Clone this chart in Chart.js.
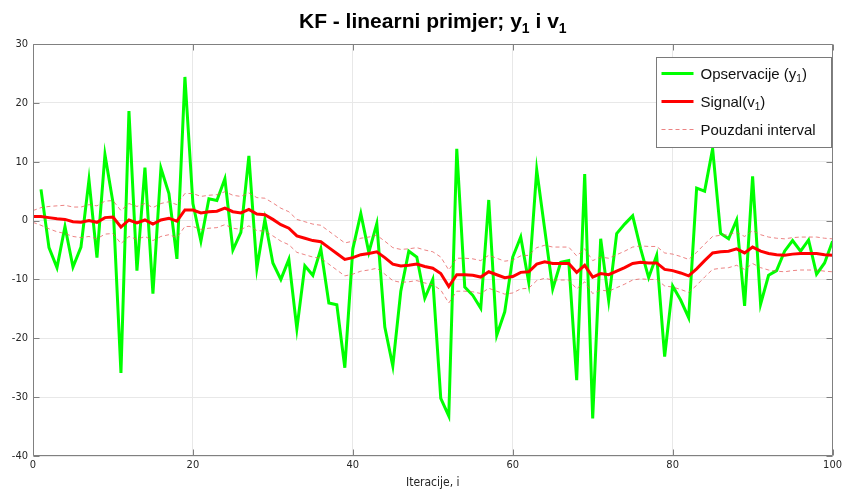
<!DOCTYPE html>
<html>
<head>
<meta charset="utf-8">
<script src="https://cdn.jsdelivr.net/npm/chart.js@4.4.0/dist/chart.umd.min.js"></script>
<style>
html, body { margin: 0; padding: 0; background: #fff; }
canvas { display: block; }
</style>
</head>
<body>
<canvas id="kfChart" width="845" height="490"></canvas>
<script>
// Axis ticks
const xTicks = [0, 20, 40, 60, 80, 100];
const yTicks = [-40, -30, -20, -10, 0, 10, 20, 30];

// Observations y1, iterations 1..100
const observations = [
    5.3, -4.6, -8.0, -1.0, -7.9, -4.5, 6.9, -6.3, 11.2, 3.1,
    -25.9, 18.6, -8.5, 9.0, -12.4, 8.9, 4.6, -6.5, 24.4, 2.9,
    -3.5, 3.7, 3.4, 7.1, -5.0, -2.0, 11.0, -8.1, 0.2, -7.2,
    -10.0, -6.6, -18.4, -7.7, -9.3, -4.8, -14.0, -14.3, -25.0, -4.8,
    1.2, -5.4, -0.5, -18.1, -24.7, -12.0, -5.2, -6.2, -13.2, -10.0,
    -30.2, -33.2, 12.2, -11.3, -12.7, -14.9, 3.5, -19.5, -15.5, -6.2,
    -2.8, -10.5, 8.6, -1.5, -11.6, -7.1, -6.8, -27.1, 7.9, -33.6,
    -3.1, -13.6, -2.2, -0.6, 0.8, -4.8, -9.7, -5.9, -23.1, -11.1,
    -13.5, -16.5, 5.5, 5.0, 12.2, -2.2, -3.1, 0.1, -14.5, 7.5,
    -14.2, -9.3, -8.5, -5.2, -3.4, -5.2, -3.3, -9.1, -7.2, -3.5
];

// Estimated signal v1, iterations 0..100
const signal = [
    0.7, 0.7, 0.5, 0.3, 0.2, -0.2, -0.3, 0.0, -0.3, 0.5, 0.6,
    -1.1, 0.1, -0.4, 0.1, -0.6, 0.1, 0.4, -0.1, 1.8, 1.8,
    1.3, 1.5, 1.6, 2.1, 1.5, 1.3, 1.9, 1.1, 1.0, 0.2,
    -0.7, -1.3, -2.6, -3.0, -3.4, -3.6, -4.6, -5.6, -6.6, -6.3,
    -5.8, -5.6, -5.3, -6.3, -7.4, -7.7, -7.6, -7.4, -7.8, -8.1,
    -9.0, -11.2, -9.2, -9.2, -9.3, -9.6, -8.7, -9.2, -9.7, -9.5,
    -8.8, -8.7, -7.4, -7.0, -7.3, -7.3, -7.3, -8.8, -7.6, -9.6,
    -9.0, -9.2, -8.6, -8.0, -7.3, -7.1, -7.2, -7.2, -8.3, -8.5,
    -8.9, -9.4, -8.2, -6.8, -5.5, -5.3, -5.2, -4.8, -5.5, -4.5,
    -5.2, -5.6, -5.8, -5.9, -5.7, -5.6, -5.6, -5.6, -5.8, -5.9
];

// Confidence interval, iterations 0..100
const upperBound = [
    1.7, 2.2, 2.4, 2.5, 2.6, 2.3, 2.3, 2.7, 2.5, 3.3, 3.4,
    1.7, 2.9, 2.4, 2.9, 2.2, 2.9, 3.2, 2.7, 4.6, 4.6,
    4.1, 4.3, 4.4, 4.9, 4.3, 4.1, 4.7, 3.9, 3.8, 3.0,
    2.1, 1.5, 0.2, -0.2, -0.6, -0.8, -1.8, -2.8, -3.8, -3.5,
    -3.0, -2.8, -2.5, -3.5, -4.6, -4.9, -4.8, -4.6, -5.0, -5.3,
    -6.2, -8.4, -6.4, -6.4, -6.5, -6.8, -5.9, -6.4, -6.9, -6.7,
    -6.0, -5.9, -4.6, -4.2, -4.5, -4.5, -4.5, -6.0, -4.8, -6.8,
    -6.2, -6.4, -5.8, -5.2, -4.5, -4.3, -4.4, -4.4, -5.5, -5.7,
    -6.1, -6.6, -5.4, -4.0, -2.7, -2.5, -2.4, -2.0, -2.7, -1.7,
    -2.4, -2.8, -3.0, -3.1, -2.9, -2.8, -2.8, -2.8, -3.0, -3.1
];
const lowerBound = [
    -0.3, -0.8, -1.4, -1.9, -2.2, -2.7, -2.9, -2.7, -3.1, -2.3, -2.2,
    -3.9, -2.7, -3.2, -2.7, -3.4, -2.7, -2.4, -2.9, -1.0, -1.0,
    -1.5, -1.3, -1.2, -0.7, -1.3, -1.5, -0.9, -1.7, -1.8, -2.6,
    -3.5, -4.1, -5.4, -5.8, -6.2, -6.4, -7.4, -8.4, -9.4, -9.1,
    -8.6, -8.4, -8.1, -9.1, -10.2, -10.5, -10.4, -10.2, -10.6, -10.9,
    -11.8, -14.0, -12.0, -12.0, -12.1, -12.4, -11.5, -12.0, -12.5, -12.3,
    -11.6, -11.5, -10.2, -9.8, -10.1, -10.1, -10.1, -11.6, -10.4, -12.4,
    -11.8, -12.0, -11.4, -10.8, -10.1, -9.9, -10.0, -10.0, -11.1, -11.3,
    -11.7, -12.2, -11.0, -9.6, -8.3, -8.1, -8.0, -7.6, -8.3, -7.3,
    -8.0, -8.4, -8.6, -8.7, -8.5, -8.4, -8.4, -8.4, -8.6, -8.7
];

const GREEN = '#00ff00';
const RED = '#ff0000';
const BAND = 'rgba(230, 90, 90, 0.75)';
const AXIS_GRAY = '#808080';
const TEXT = '#262626';
const TICK_FONT = '"Liberation Sans Narrow", "DejaVu Sans Condensed", "Liberation Sans", sans-serif';
const MAIN_FONT = '"Liberation Sans", Arial, sans-serif';

// Draw text with "_1" style subscripts: parts = [[text, isSub], ...]
function drawRich(ctx, parts, x, y, size, weight, align) {
    const fontFor = sub => `${weight} ${sub ? Math.round(size * 0.68) : size}px ${MAIN_FONT}`;
    let total = 0;
    parts.forEach(([t, sub]) => {
        ctx.font = fontFor(sub);
        total += ctx.measureText(t).width;
    });
    let cx = align === 'center' ? x - total / 2 : x;
    ctx.textAlign = 'left';
    ctx.textBaseline = 'alphabetic';
    parts.forEach(([t, sub]) => {
        ctx.font = fontFor(sub);
        ctx.fillText(t, cx, sub ? y + size * 0.22 : y);
        cx += ctx.measureText(t).width;
    });
}

// Title, inward tick marks, axes box and legend
const decorPlugin = {
    id: 'decor',
    afterDraw(chart) {
        const ctx = chart.ctx;
        const area = chart.chartArea;
        const xs = chart.scales.x;
        const ys = chart.scales.y;
        ctx.save();

        // axes box + inward ticks
        ctx.strokeStyle = AXIS_GRAY;
        ctx.lineWidth = 1;
        ctx.beginPath();
        const L = Math.round(area.left) + 0.5, R = Math.round(area.right) - 0.5;
        const T = Math.round(area.top) + 0.5, B = Math.round(area.bottom) - 0.5;
        ctx.rect(L, T, R - L, B - T);
        xTicks.forEach(v => {
            const px = Math.round(xs.getPixelForValue(v)) + 0.5;
            ctx.moveTo(px, B); ctx.lineTo(px, B - 6);
            ctx.moveTo(px, T); ctx.lineTo(px, T + 6);
        });
        yTicks.forEach(v => {
            const py = Math.round(ys.getPixelForValue(v)) + 0.5;
            ctx.moveTo(L, py); ctx.lineTo(L + 6, py);
            ctx.moveTo(R, py); ctx.lineTo(R - 6, py);
        });
        ctx.stroke();

        // title
        ctx.fillStyle = '#000';
        drawRich(ctx, [['KF - linearni primjer; y', false], ['1', true], [' i v', false], ['1', true]],
            (area.left + area.right) / 2, 28, 21, 'bold', 'center');

        // legend
        const bx = 656.5, by = 57.5, bw = 175, bh = 90;
        ctx.fillStyle = '#fff';
        ctx.fillRect(bx, by, bw, bh);
        ctx.strokeStyle = '#7a7a7a';
        ctx.lineWidth = 1;
        ctx.strokeRect(bx, by, bw, bh);

        const rows = [
            { parts: [['Opservacije (y', false], ['1', true], [')', false]], color: GREEN, width: 3, dash: [] },
            { parts: [['Signal(v', false], ['1', true], [')', false]], color: RED, width: 3, dash: [] },
            { parts: [['Pouzdani interval', false]], color: BAND, width: 1, dash: [4, 3] }
        ];
        rows.forEach((row, i) => {
            const cy = by + 16 + i * 28;
            ctx.beginPath();
            ctx.strokeStyle = row.color;
            ctx.lineWidth = row.width;
            ctx.setLineDash(row.dash);
            ctx.moveTo(bx + 5, cy);
            ctx.lineTo(bx + 37, cy);
            ctx.stroke();
            ctx.setLineDash([]);
            ctx.fillStyle = '#111';
            drawRich(ctx, row.parts, bx + 44, cy + 5.5, 15, 'normal', 'left');
        });

        ctx.restore();
    }
};

const ctx = document.getElementById('kfChart').getContext('2d');

const kfChart = new Chart(ctx, {
    type: 'line',
    data: {
        datasets: [
            {
                label: 'Signal(v1)',
                data: signal.map((v, i) => ({ x: i, y: v })),
                borderColor: RED,
                borderWidth: 3,
                order: 0
            },
            {
                label: 'Pouzdani interval',
                data: upperBound.map((v, i) => ({ x: i, y: v })),
                borderColor: BAND,
                borderWidth: 1,
                borderDash: [4, 3],
                order: 1
            },
            {
                label: 'Pouzdani interval (donji)',
                data: lowerBound.map((v, i) => ({ x: i, y: v })),
                borderColor: BAND,
                borderWidth: 1,
                borderDash: [4, 3],
                order: 1
            },
            {
                label: 'Opservacije (y1)',
                data: observations.map((v, i) => ({ x: i + 1, y: v })),
                borderColor: GREEN,
                borderWidth: 3,
                order: 2
            }
        ]
    },
    options: {
        responsive: false,
        animation: false,
        devicePixelRatio: 1,
        parsing: false,
        elements: {
            point: { radius: 0, hoverRadius: 0 },
            line: { tension: 0, fill: false, borderJoinStyle: 'miter', borderCapStyle: 'butt' }
        },
        layout: { padding: { top: 44, right: 10, left: 0, bottom: 0 } },
        plugins: {
            legend: { display: false },
            title: { display: false },
            tooltip: { enabled: false }
        },
        scales: {
            x: {
                type: 'linear',
                min: 0,
                max: 100,
                afterBuildTicks: scale => { scale.ticks = xTicks.map(v => ({ value: v })); },
                afterFit: scale => { scale.height = 34; },
                grid: { color: '#e8e8e8', drawTicks: false },
                border: { display: false },
                ticks: {
                    padding: 3,
                    color: TEXT,
                    font: { family: TICK_FONT, size: 11 },
                    maxRotation: 0
                },
                title: {
                    display: true,
                    text: 'Iteracije, i',
                    color: TEXT,
                    font: { family: TICK_FONT, size: 12 },
                    padding: { top: 0, bottom: 0 }
                }
            },
            y: {
                type: 'linear',
                min: -40,
                max: 30,
                afterBuildTicks: scale => { scale.ticks = yTicks.map(v => ({ value: v })); },
                afterFit: scale => { scale.width = 33; },
                grid: { color: '#e8e8e8', drawTicks: false },
                border: { display: false },
                ticks: {
                    padding: 5,
                    color: TEXT,
                    font: { family: TICK_FONT, size: 11 }
                }
            }
        }
    },
    plugins: [decorPlugin]
});
</script>
</body>
</html>
